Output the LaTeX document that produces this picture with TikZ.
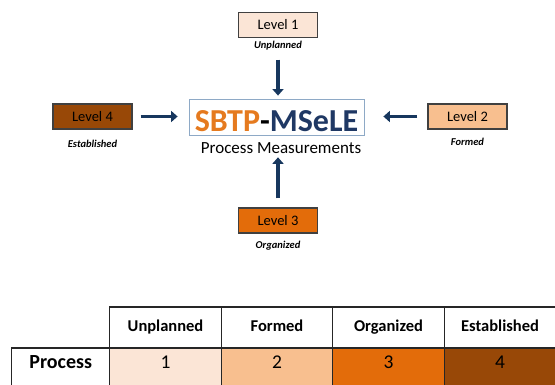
\documentclass[tikz,border=0pt]{standalone}
\usepackage{fontspec}
\setmainfont{Carlito}
\usepackage{tikz}
\usetikzlibrary{arrows.meta,positioning}
\definecolor{lone}{HTML}{FBE5D6}
\definecolor{ltwo}{HTML}{F8BF8F}
\definecolor{lthree}{HTML}{E36C0A}
\definecolor{lfour}{HTML}{984807}
\definecolor{sbtp}{HTML}{E57A1F}
\definecolor{navy}{HTML}{1F3864}
\definecolor{dart}{HTML}{17375E}
\definecolor{frame}{HTML}{8EA9C6}
\definecolor{edge}{HTML}{404040}
\tikzstyle{lv}   = [rectangle, draw=edge, line width=1.2pt, minimum width=79pt, minimum height=25pt, inner sep=0pt, font=\fontsize{14.5}{16}\selectfont]
\tikzstyle{sub}  = [inner sep=0pt, font=\fontsize{10.5}{12}\selectfont\bfseries\itshape]
\tikzstyle{ar}   = [dart, line width=3.8pt, -{Triangle[length=6.5pt,width=11pt]}]
\tikzstyle{hd}   = [rectangle, draw=black!85, line width=1.2pt, outer sep=0pt, inner sep=0pt, minimum width=111.5pt, minimum height=41pt, text height=11.5pt, text depth=3.5pt, font=\fontsize{16.5}{18}\selectfont\bfseries]
\tikzstyle{cell} = [rectangle, draw=black!85, line width=1.2pt, outer sep=0pt, inner sep=0pt, minimum width=111.5pt, minimum height=42pt, text height=10pt, text depth=12pt, font=\fontsize{19.5}{22}\selectfont]

\begin{document}
\begin{tikzpicture}[x=1pt, y=-1pt]
		\useasboundingbox (0,0) rectangle (555,385);

		\node[draw=frame, line width=0.8pt, minimum width=175pt, minimum height=36pt, inner sep=0pt, text height=30pt, text depth=0pt, font=\fontsize{32}{34}\selectfont\bfseries] (core) at (276.5,117)
			{\textcolor{sbtp}{SBTP}-\textcolor{navy}{MSeLE}};
		\node[anchor=base, inner sep=0pt, font=\fontsize{17}{19}\selectfont] (pm) at (281,154) {Process Measurements};

		\node[lv, fill=lone]   (l1) at (278,25)      {Level 1};
		\node[lv, fill=ltwo]   (l2) at (467.5,116.5) {Level 2};
		\node[lv, fill=lthree] (l3) at (278,220.5)   {Level 3};
		\node[lv, fill=lfour]  (l4) at (92.5,116.5)  {Level 4};

		\node[sub, below=3pt of l1]  (c1) {Unplanned};
		\node[sub, below=8pt of l2]  (c2) {Formed};
		\node[sub, below=7pt of l3]  (c3) {Organized};
		\node[sub, below=10pt of l4] (c4) {Established};

		\draw[ar, shorten <=9pt, shorten >=3pt]   (c1.south) -- (c1 |- core.north);
		\draw[ar, shorten <=10pt, shorten >=19pt] (l2.west) -- (core.east |- l2);
		\draw[ar, shorten <=9pt, shorten >=3pt]   (l3.north) -- (l3 |- pm.south);
		\draw[ar, shorten <=8pt, shorten >=11pt]  (l4.east) -- (core.west |- l4);

		\node[hd] (h1) at (165.5,327.5) {Unplanned};
		\node[hd, right=0pt of h1] (h2) {Formed};
		\node[hd, right=0pt of h2] (h3) {Organized};
		\node[hd, right=0pt of h3] (h4) {Established};

		\node[cell, fill=lone,   below=0pt of h1] (v1) {1};
		\node[cell, fill=ltwo,   below=0pt of h2] (v2) {2};
		\node[cell, fill=lthree, below=0pt of h3] (v3) {3};
		\node[cell, fill=lfour,  below=0pt of h4] (v4) {4};
		\node[cell, minimum width=98pt, font=\fontsize{20}{22}\selectfont\bfseries, left=0pt of v1] (pr) {Process};
	\end{tikzpicture}
\end{document}
